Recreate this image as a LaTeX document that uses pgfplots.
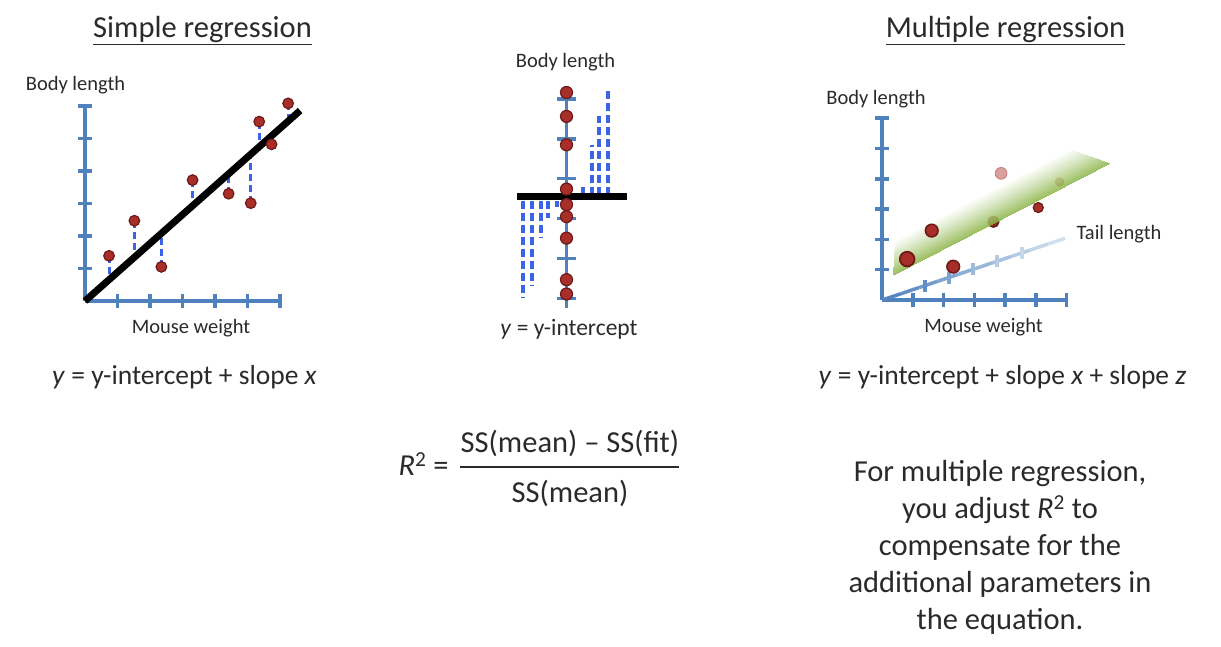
\documentclass[border=0pt]{standalone}
\usepackage{pgfplots}
\pgfplotsset{compat=1.18}
\usepackage{fontspec}
\setmainfont{Carlito}
\definecolor{axisblue}{HTML}{4F81BD}
\definecolor{dotred}{HTML}{A82E2A}
\definecolor{dotedge}{HTML}{6E1A17}
\definecolor{residblue}{HTML}{3D63E6}
\definecolor{planegreen}{HTML}{8AB445}
\definecolor{txt}{HTML}{2A2A2A}
\pgfplotsset{
  colormap={tailmap}{color(0)=(axisblue) color(1)=(axisblue!22!white)},
  colormap={greenfade}{color(0)=(white) color(0.5)=(planegreen!45!white) color(1)=(planegreen)},
  regaxis/.style={scale only axis, axis x line=bottom, axis y line=left,
    axis line style={-, draw=axisblue, line width=3.8pt},
    xticklabels={}, yticklabels={}, tick align=center, major tick length=14pt,
    tick style={axisblue, line width=3.5pt}, clip=false, clip mode=individual},
  dot/.style={only marks, mark=*, mark size=5.3pt,
    mark options={fill=dotred, draw=dotedge, line width=1.2pt}},
  resid/.style={residblue, line width=3pt, dash pattern=on 7pt off 4pt},
}
\newcommand{\titlef}{\fontsize{30.5}{36}\selectfont}
\newcommand{\labf}{\fontsize{20.5}{24}\selectfont}
\newcommand{\midf}{\fontsize{23.5}{28}\selectfont}
\newcommand{\eqf}{\fontsize{27.5}{33}\selectfont}
\newcommand{\bigf}{\fontsize{30.5}{37}\selectfont}
\begin{document}
\begin{tikzpicture}[x=1pt,y=1pt]
\useasboundingbox (0,0) rectangle (1221,647);

% ---------------- Simple regression ----------------
\begin{axis}[regaxis, at={(85pt,346pt)}, anchor=south west,
  width=195pt, height=195pt, xmin=0, xmax=6, ymin=0, ymax=6,
  xtick={1,...,6}, ytick={1,...,6}]
\addplot[resid] coordinates {(0.74,1.39) (0.74,0.655)};
\addplot[resid] coordinates {(1.52,2.47) (1.52,1.345)};
\addplot[resid] coordinates {(2.35,1.05) (2.35,2.08)};
\addplot[resid] coordinates {(3.31,3.72) (3.31,2.93)};
\addplot[resid] coordinates {(4.42,3.30) (4.42,3.91)};
\addplot[resid] coordinates {(5.10,3.01) (5.10,4.51)};
\addplot[resid] coordinates {(5.36,5.52) (5.36,4.74)};
\addplot[resid] coordinates {(5.74,4.82) (5.74,5.08)};
\addplot[resid] coordinates {(6.25,6.08) (6.25,5.53)};
\addplot[black, line width=7pt] coordinates {(0,0) (6.62,5.86)};
\addplot[dot] coordinates {(0.74,1.39) (1.52,2.47) (2.35,1.05) (3.31,3.72) (4.42,3.30)
  (5.10,3.01) (5.36,5.52) (5.74,4.82) (6.25,6.08)};
\end{axis}

% ---------------- Mean ----------------
\begin{axis}[scale only axis, at={(510.5pt,339pt)}, anchor=south west,
  width=120pt, height=216.3pt, xmin=-56, xmax=64, ymin=0.76, ymax=6.18,
  axis x line=none, axis y line=center,
  axis line style={-, draw=axisblue, line width=3.5pt},
  ytick={1,...,6}, yticklabels={}, xtick=\empty, tick align=center,
  major tick length=19pt, tick style={axisblue, line width=3.5pt}, clip=false]
\addplot[resid, line width=4pt, dash pattern=on 8pt off 4pt] coordinates {(-43.2,3.45) (-43.2,1.03)};
\addplot[resid, line width=4pt, dash pattern=on 8pt off 4pt] coordinates {(-34.8,3.45) (-34.8,1.32)};
\addplot[resid, line width=4pt, dash pattern=on 8pt off 4pt] coordinates {(-25.8,3.45) (-25.8,2.51)};
\addplot[resid, line width=4pt, dash pattern=on 8pt off 4pt] coordinates {(-18.2,3.45) (-18.2,3.01)};
\addplot[resid, line width=4pt, dash pattern=on 8pt off 4pt] coordinates {(-9.8,3.45) (-9.8,3.30)};
\addplot[resid, line width=4pt, dash pattern=on 8pt off 4pt] coordinates {(16.8,3.60) (16.8,3.80)};
\addplot[resid, line width=4pt, dash pattern=on 8pt off 4pt] coordinates {(25.2,3.60) (25.2,4.85)};
\addplot[resid, line width=4pt, dash pattern=on 8pt off 4pt] coordinates {(32.8,3.60) (32.8,5.56)};
\addplot[resid, line width=4pt, dash pattern=on 8pt off 4pt] coordinates {(41.2,3.60) (41.2,6.19)};
\addplot[black, line width=7pt] coordinates {(-49.8,3.55) (60.2,3.55)};
\addplot[dot, mark size=6pt] coordinates {(0,6.16) (0,5.56) (0,4.85) (0,3.74) (0,3.35) (0,3.05)
  (0,2.51) (0,1.47) (0,1.11)};
\end{axis}

% ---------------- Multiple regression ----------------
\begin{axis}[regaxis, at={(882.3pt,347pt)}, anchor=south west,
  width=184.2pt, height=181.8pt, xmin=0, xmax=6, ymin=0, ymax=6,
  xtick={1,...,6}, ytick={1,...,6}, point meta min=0, point meta max=1]
\addplot[mesh, colormap name=tailmap, point meta=explicit, line width=3.5pt]
  coordinates {(0,0) [0] (0.6,0.205) [0.1] (1.2,0.41) [0.2] (1.8,0.616) [0.3]
  (2.4,0.821) [0.4] (3.0,1.026) [0.5] (3.6,1.231) [0.6] (4.2,1.436) [0.7]
  (4.8,1.642) [0.8] (5.4,1.847) [0.9] (5.95,2.035) [1]};
\addplot[axisblue!90!white, line width=3.5pt] coordinates {(1.39,0.27) (1.39,0.67)};
\addplot[axisblue!72!white, line width=3.5pt] coordinates {(2.17,0.54) (2.17,0.94)};
\addplot[axisblue!55!white, line width=3.5pt] coordinates {(2.96,0.81) (2.96,1.21)};
\addplot[axisblue!42!white, line width=3.5pt] coordinates {(3.74,1.08) (3.74,1.48)};
\addplot[axisblue!32!white, line width=3.5pt] coordinates {(4.55,1.36) (4.55,1.76)};
% points behind the plane
\addplot[dot, mark size=5.5pt, mark options={fill=dotred!80!black, draw=dotedge, line width=1.2pt}] coordinates {(3.62,2.58)};
\addplot[dot, mark size=4pt, mark options={fill=dotred!70!white, draw=dotred, line width=1pt}] coordinates {(5.77,3.90)};
% plane
\addplot[patch, shader=interp, colormap name=greenfade, point meta=explicit,
  fill opacity=0.85, draw=none]
  coordinates {(0.35,0.825) [1] (7.41,4.51) [1] (6.11,4.98) [0]
               (0.35,0.825) [1] (6.11,4.98) [0] (0.41,1.98) [0]};
% points in front
\addplot[dot, mark size=7.3pt, mark options={fill=dotred, draw=dotedge, line width=1.8pt}] coordinates {(0.81,1.35)};
\addplot[dot, mark size=6.3pt, mark options={fill=dotred, draw=dotedge, line width=1.6pt}] coordinates {(1.61,2.29) (2.31,1.10)};
\addplot[dot, mark size=5pt] coordinates {(5.08,3.05)};
\addplot[only marks, mark=*, mark size=5.8pt, mark options={fill=dotred!45!white, draw=dotred!60!white, line width=1pt}] coordinates {(3.87,4.18)};
\end{axis}

% ---------------- Text ----------------
\begin{scope}[every node/.style={text=txt, inner sep=0pt}]
\node[anchor=base, font=\titlef] at (202.5,647-38) {\underline{Simple regression}};
\node[anchor=base, font=\titlef] at (1005.5,647-38) {\underline{Multiple regression}};
\node[anchor=base, font=\labf] at (75.5,647-91) {Body length};
\node[anchor=base, font=\labf] at (191,647-334) {Mouse weight};
\node[anchor=base, font=\labf] at (565.5,647-68) {Body length};
\node[anchor=base, font=\midf] at (569,647-336) {\textit{y} = y-intercept};
\node[anchor=base, font=\labf] at (876,647-105) {Body length};
\node[anchor=base, font=\labf] at (1119,647-240) {Tail length};
\node[anchor=base, font=\labf] at (983.5,647-333) {Mouse weight};
\node[anchor=base, font=\eqf] at (184.5,647-385) {\textit{y} = y-intercept + slope \textit{x}};
\node[anchor=base, font=\eqf] at (1002.5,647-385) {\textit{y} = y-intercept + slope \textit{x} + slope \textit{z}};
\node[anchor=base, font=\bigf] at (423.5,647-476) {\textit{R}\textsuperscript{2} =};
\node[anchor=base, font=\bigf] at (570,647-453) {SS(mean) – SS(fit)};
\node[anchor=base, font=\bigf] at (570,647-503) {SS(mean)};
\node[anchor=base, font=\bigf] at (1000,647-481.7) {For multiple regression,};
\node[anchor=base, font=\bigf] at (1000,647-518.7) {you adjust \textit{R}\textsuperscript{2} to};
\node[anchor=base, font=\bigf] at (1000,647-555.7) {compensate for the};
\node[anchor=base, font=\bigf] at (1000,647-592.7) {additional parameters in};
\node[anchor=base, font=\bigf] at (1000,647-629.7) {the equation.};
\end{scope}
\draw[txt, line width=2pt] (460,647-467) -- (679,647-467);
\end{tikzpicture}
\end{document}
